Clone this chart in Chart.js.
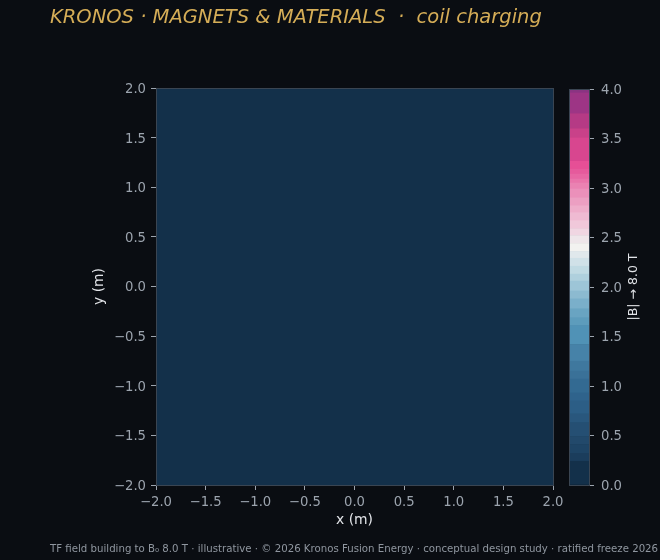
<!DOCTYPE html>
<html><head><meta charset="utf-8">
<script src="https://cdn.jsdelivr.net/npm/chart.js@4.4.1/dist/chart.umd.min.js"></script>
<style>
html,body{margin:0;padding:0;background:#0a0d12;width:660px;height:560px;overflow:hidden;}
#wrap{position:relative;width:660px;height:560px;}
canvas{position:absolute;}
#title{position:absolute;left:50px;top:5px;font:italic 19.5px "DejaVu Sans";color:#d5ad57;white-space:pre;}
#foot{position:absolute;left:50px;top:543px;font:10.2px "DejaVu Sans";color:#8f969f;white-space:pre;}
</style></head>
<body>
<div id="wrap">
<canvas id="main" width="660" height="560" style="left:0;top:0;width:660px;height:560px"></canvas>
<canvas id="cbar" width="100" height="560" style="left:560px;top:0;width:100px;height:560px"></canvas>
<div id="title">KRONOS · MAGNETS &amp; MATERIALS  ·  coil charging</div>
<div id="foot">TF field building to B₀ 8.0 T · illustrative · © 2026 Kronos Fusion Energy · conceptual design study · ratified freeze 2026</div>
</div>
<script>
// ---- data ----
const xEdges = [-2.0, 2.0];
const yEdges = [-2.0, 2.0];
const fieldB = [[0.0]];               // |B| map (colorbar units), field still at zero
const axisTicks = [-2.0, -1.5, -1.0, -0.5, 0.0, 0.5, 1.0, 1.5, 2.0];
const cbTicks = [0.0, 0.5, 1.0, 1.5, 2.0, 2.5, 3.0, 3.5, 4.0];
const cbLevels = [0, 0.24, 0.32, 0.41, 0.49, 0.63, 0.72, 0.85, 0.93, 1.07, 1.15, 1.25, 1.42, 1.61, 1.69, 1.78, 1.88, 1.96, 2.06, 2.13, 2.21, 2.29, 2.36, 2.44, 2.52, 2.59, 2.67, 2.75, 2.82, 2.90, 2.99, 3.05, 3.09, 3.14, 3.19, 3.27, 3.51, 3.60, 3.75, 3.96, 4.0];
const cbColors = ['#13304a','#1b3d5c','#1e4465','#22496b','#254f73','#29577d','#2c5e86','#2f638c','#336a92','#3a7198','#3f789e','#4682a8','#5092b6','#5d9cbc','#69a4c2','#7aafca','#8cbad0','#9dc5d7','#afd0dd','#c0dae3','#d0e1e8','#e0e8ec','#f2f2f0','#eee6ea','#f0d6e2','#f0c8da','#efbad2','#eeadca','#ec9fc2','#eb90ba','#ea82b2','#e974aa','#e866a3','#e65a9c','#e64f96','#d8468f','#c94189','#b53a85','#9d3585','#8a3482'];
const cbLabel = '|B| \u2192 8.0 T';

// ---- helpers ----
function colorFor(v){
  for(let i=0;i<cbColors.length;i++){ if(v < cbLevels[i+1]) return cbColors[i]; }
  return cbColors[cbColors.length-1];
}
const fmt = v => (v<0?'\u2212':'') + Math.abs(v).toFixed(1);
Chart.defaults.font.family = '"DejaVu Sans"';
const TICKC = '#9ca4ae', LABELC = '#e2e4e8', FRAMEC = '#3a4552';

const frame = {
  id:'frame',
  afterDraw(c){
    const a=c.chartArea, x=c.ctx;
    x.save(); x.strokeStyle=FRAMEC; x.lineWidth=1;
    x.strokeRect(Math.round(a.left)+0.5, Math.round(a.top)+0.5, Math.round(a.right-a.left), Math.round(a.bottom-a.top));
    x.restore();
  }
};

// ---- main field map ----
const cellSets = [];
for(let j=0;j<fieldB.length;j++){
  for(let i=0;i<fieldB[j].length;i++){
    cellSets.push({
      type:'line',
      data:[{x:xEdges[i],y:yEdges[j+1]},{x:xEdges[i+1],y:yEdges[j+1]}],
      fill:{value:yEdges[j]},
      backgroundColor:colorFor(fieldB[j][i]),
      borderWidth:0, pointRadius:0, tension:0
    });
  }
}
const axisCommon = (title, off) => ({
  type:'linear', min:-2, max:2,
  afterBuildTicks: s => { s.ticks = axisTicks.map(v=>({value:v})); },
  ticks:{color:TICKC, font:{size:13.2}, padding:5, labelOffset:off, callback:v=>fmt(v)},
  grid:{display:true, drawOnChartArea:false, drawTicks:true, tickLength:5, tickColor:TICKC, color:TICKC},
  border:{display:false},
  title:{display:true, text:title, color:LABELC, font:{size:13.9}, padding:4}
});
const xs = axisCommon('x (m)', 0); xs.afterFit = s => { s.height = 48; };
const ys = axisCommon('y (m)', 1.5); ys.afterFit = s => { s.width = 69; };
new Chart(document.getElementById('main'), {
  type:'line',
  data:{datasets:cellSets},
  options:{
    responsive:false, animation:false, devicePixelRatio:1,
    layout:{padding:{left:87, top:88, right:107, bottom:27}},
    plugins:{legend:{display:false}, tooltip:{enabled:false}},
    scales:{x:xs, y:ys}
  },
  plugins:[frame]
});

// ---- colorbar ----
const bandSets = cbColors.map((c,i)=>({
  data:[[cbLevels[i], cbLevels[i+1]]],
  backgroundColor:c, borderWidth:0, grouped:false,
  barPercentage:1, categoryPercentage:1
}));
const cbTitle = {
  id:'cbTitle',
  afterDraw(c){
    const x=c.ctx, a=c.chartArea;
    x.save(); x.translate(73.5, (a.top+a.bottom)/2); x.rotate(-Math.PI/2);
    x.font='12.5px "DejaVu Sans"'; x.fillStyle=LABELC; x.textAlign='center'; x.textBaseline='middle';
    x.fillText(cbLabel,0,0); x.restore();
  }
};
new Chart(document.getElementById('cbar'), {
  type:'bar',
  data:{labels:['|B|'], datasets:bandSets},
  options:{
    responsive:false, animation:false, devicePixelRatio:1,
    layout:{padding:{left:9, top:89, right:0, bottom:75}},
    plugins:{legend:{display:false}, tooltip:{enabled:false}},
    scales:{
      x:{type:'category', display:false},
      y:{type:'linear', position:'right', min:0, max:4,
         afterBuildTicks: s => { s.ticks = cbTicks.map(v=>({value:v})); },
         afterFit: s => { s.width = 71; },
         ticks:{color:TICKC, font:{size:13.2}, padding:7, labelOffset:1.5, callback:v=>fmt(v)},
         grid:{display:true, drawOnChartArea:false, drawTicks:true, tickLength:5, tickColor:TICKC, color:TICKC},
         border:{display:false}}
    }
  },
  plugins:[frame, cbTitle]
});
</script>
</body></html>
